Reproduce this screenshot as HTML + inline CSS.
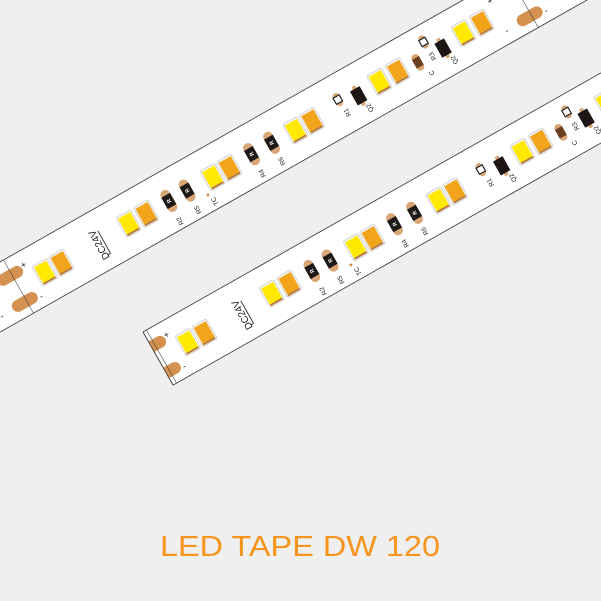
<!DOCTYPE html>
<html><head><meta charset="utf-8"><style>
html,body{margin:0;padding:0;background:#efefef;width:601px;height:601px;overflow:hidden;}
svg{display:block;}
text{font-family:"Liberation Sans",sans-serif;}
</style></head><body>
<svg width="601" height="601" viewBox="0 0 601 601" xmlns="http://www.w3.org/2000/svg">
<defs>
<g id="ly"><rect x="-8.5" y="-11.5" width="17" height="23" rx="2" fill="#f3f3f3" stroke="#cfcfcf" stroke-width="0.8"/><rect x="-7" y="-9.5" width="14" height="18" fill="#ffe900"/><rect x="-7" y="8.5" width="14" height="2" fill="#b97a3e"/></g>
<g id="lo"><rect x="-8.5" y="-11.5" width="17" height="23" rx="2" fill="#f3f3f3" stroke="#cfcfcf" stroke-width="0.8"/><rect x="-7" y="-9.5" width="14" height="18" fill="#f2a51b"/><rect x="-7" y="8.5" width="14" height="2" fill="#b97a3e"/></g>
<g id="rr"><rect x="-5" y="-12" width="10" height="24" rx="5" fill="#d9a676"/><rect x="-5" y="-6.5" width="10" height="13" fill="#1e1a18"/><text x="0" y="2" font-size="5.5" fill="#fff" text-anchor="middle" transform="rotate(-90)" font-weight="bold">R</text></g>
<g id="rs"><rect x="-3.5" y="-7" width="7" height="14" rx="3.5" fill="#d9a676"/><rect x="-3.5" y="-3.5" width="7" height="7" fill="#fff" stroke="#222" stroke-width="1.2"/></g>
<g id="q"><rect x="-2" y="-11" width="4" height="22" fill="#d9a676"/><rect x="-5.5" y="-8" width="11" height="16" fill="#1e1614"/></g>
<g id="c"><rect x="-4" y="-9" width="8" height="18" rx="4" fill="#d9a676"/><rect x="-4" y="-5" width="8" height="10" fill="#6a3f22"/></g>
<g id="pad"><rect x="-14" y="-6" width="28" height="12" rx="6" fill="#d4914f"/></g>
<g id="seg" font-size="6.5" fill="#222">
<use href="#pad" x="2" y="17"/><use href="#pad" x="2" y="47"/>
<line x1="4" y1="0" x2="4" y2="61" stroke="#444" stroke-width="0.6"/>
<text x="19" y="17" font-size="9" text-anchor="middle">+</text>
<text x="19" y="53" font-size="9" text-anchor="middle">-</text>
<text x="555" y="17" font-size="9" text-anchor="middle">+</text>
<text x="555" y="51" font-size="9" text-anchor="middle">-</text>
<use href="#ly" x="34" y="31"/><use href="#lo" x="53" y="31"/>
<g transform="translate(95,34) rotate(-90)"><text x="0" y="3" font-size="10" text-anchor="middle" fill="#222">DC24V</text><line x1="-13" y1="5.5" x2="13" y2="5.5" stroke="#222" stroke-width="0.9"/><line x1="-13" y1="5.5" x2="-13" y2="2" stroke="#222" stroke-width="0.9"/></g>
<use href="#ly" x="131" y="30"/><use href="#lo" x="151" y="30"/>
<use href="#rr" x="177" y="30"/><text transform="translate(179,53) rotate(-90)" text-anchor="middle">R2</text>
<use href="#rr" x="198" y="30"/><text transform="translate(200,52) rotate(-90)" text-anchor="middle">R5</text>
<circle cx="214" cy="44" r="1.5" fill="#d4914f"/><text transform="translate(219,53) rotate(-90)" text-anchor="middle">TC</text>
<use href="#ly" x="227" y="31"/><use href="#lo" x="246" y="31"/>
<use href="#rr" x="272" y="30"/><text transform="translate(274,52) rotate(-90)" text-anchor="middle">R4</text>
<use href="#rr" x="295" y="30"/><text transform="translate(297,51) rotate(-90)" text-anchor="middle">R6</text>
<use href="#ly" x="322" y="31"/><use href="#lo" x="341" y="31"/>
<use href="#rs" x="374" y="25"/><text transform="translate(378,41) rotate(-90)" text-anchor="middle">R1</text>
<use href="#q" x="394" y="32"/><text transform="translate(400,48) rotate(-90)" text-anchor="middle">Q2</text>
<use href="#ly" x="419" y="30"/><use href="#lo" x="440" y="30"/>
<use href="#c" x="462" y="32"/><text transform="translate(471,48) rotate(-90)" text-anchor="middle">C</text>
<use href="#rs" x="477" y="17"/><text transform="translate(480,34) rotate(-90)" text-anchor="middle">R3</text>
<use href="#q" x="491" y="32"/><text transform="translate(497,48) rotate(-90)" text-anchor="middle">Q2</text>
<use href="#ly" x="516" y="29"/><use href="#lo" x="537" y="29"/>
</g>
<clipPath id="cl2"><rect x="0" y="-1" width="900" height="63"/></clipPath>
</defs>
<rect width="601" height="601" fill="#efefef"/>
<g transform="translate(0,262) rotate(-29.5)">
<rect x="-700" y="0" width="1600" height="61" fill="#fff" stroke="#444" stroke-width="0.9"/>
<use href="#seg" x="-580"/><use href="#seg" x="0"/><use href="#seg" x="580"/>
</g>
<g transform="translate(143,332) rotate(-29.5)">
<g clip-path="url(#cl2)">
<rect x="0" y="0" width="900" height="61" fill="#fff" stroke="#444" stroke-width="0.9"/>
<use href="#seg" x="0"/><use href="#seg" x="580"/>
</g>
<line x1="0" y1="0" x2="0" y2="61" stroke="#444" stroke-width="0.9"/>
</g>
<text x="300" y="556" font-size="29" fill="#f7941d" text-anchor="middle" textLength="280" lengthAdjust="spacingAndGlyphs">LED TAPE DW 120</text>
</svg>
</body></html>
